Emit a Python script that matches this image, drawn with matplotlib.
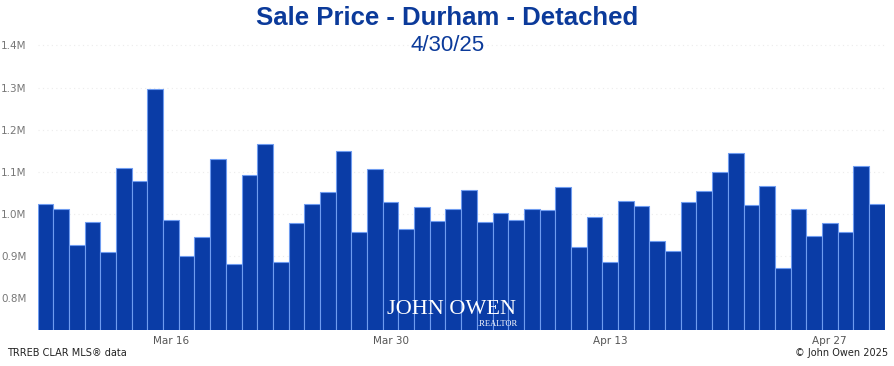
import numpy as np
import pandas as pd
import matplotlib
matplotlib.use("Agg")
import matplotlib.pyplot as plt
import matplotlib.ticker as mticker

# Data: daily average sale price, Mar 8 - Apr 30 2025
dates = pd.date_range("2025-03-08", "2025-04-30", freq="D")
prices = [
    1.024, 1.013, 0.927, 0.982, 0.910, 1.109, 1.078, 1.296, 0.987, 0.900,
    0.945, 1.131, 0.881, 1.093, 1.166, 0.887, 0.979, 1.024, 1.052, 1.150,
    0.957, 1.108, 1.028, 0.964, 1.017, 0.983, 1.012, 1.056, 0.982, 1.003,
    0.985, 1.012, 1.009, 1.063, 0.923, 0.992, 0.886, 1.031, 1.018, 0.937,
    0.912, 1.029, 1.055, 1.100, 1.146, 1.021, 1.066, 0.871, 1.012, 0.948,
    0.978, 0.957, 1.114, 1.025,
]
prices = np.array(prices) * 1e6
tick_dates = ["2025-03-16", "2025-03-30", "2025-04-13", "2025-04-27"]

blue = "#0a3ca6"
title_blue = "#0b3a9a"
narrow = ["Liberation Sans Narrow", "DejaVu Sans"]

fig = plt.figure(figsize=(8.95, 3.66), dpi=100)
ax = fig.add_axes([0.042, 0.0984, 0.9465, 0.789])

x = np.arange(len(dates))
ax.bar(x, prices, width=1.0, color=blue, edgecolor="#6f9cf0", linewidth=0.8)

ax.set_xlim(-0.5, len(dates) - 0.5)
ax.set_ylim(0.725e6, 1.41e6)

ax.yaxis.set_major_locator(mticker.MultipleLocator(1e5))
ax.yaxis.set_major_formatter(mticker.FuncFormatter(lambda v, p: f"{v/1e6:.1f}M"))
ax.grid(axis="y", color="#ececec", linestyle=(0, (1, 3)), linewidth=0.8)
ax.set_axisbelow(True)

tick_pos = [dates.get_loc(pd.Timestamp(d)) for d in tick_dates]
ax.set_xticks(tick_pos)
ax.set_xticklabels([pd.Timestamp(d).strftime("%b %d").replace(" 0", " ") for d in tick_dates],
                   family=narrow, fontsize=7.5, color="#555555")
for lab in ax.get_yticklabels():
    lab.set_fontsize(7.5)
    lab.set_color("#777777")
ax.tick_params(axis="both", length=0)
ax.tick_params(axis="y", pad=8)
ax.tick_params(axis="x", pad=4)
for s in ax.spines.values():
    s.set_visible(False)

fig.text(0.5, 0.95, "Sale Price - Durham - Detached", ha="center", va="center",
         fontsize=18.5, fontweight="bold", color=title_blue, family="Liberation Sans")
fig.text(0.5, 0.875, "4/30/25", ha="center", va="center",
         fontsize=16, color=title_blue, family="Liberation Sans")

# watermark
fig.text(0.505, 0.155, "JOHN OWEN", ha="center", va="center", fontsize=16,
         color="white", family="Liberation Serif")
fig.text(0.578, 0.115, ".REALTOR", ha="right", va="center", fontsize=6,
         color="white", family="Liberation Serif")

fig.text(0.008, 0.035, "TRREB CLAR MLS\u00ae data", ha="left", va="center", fontsize=7,
         color="#222222", family=narrow)
fig.text(0.992, 0.035, "\u00a9 John Owen 2025", ha="right", va="center", fontsize=7,
         color="#222222", family=narrow)

fig.savefig("out.png", dpi=100, facecolor="white")
